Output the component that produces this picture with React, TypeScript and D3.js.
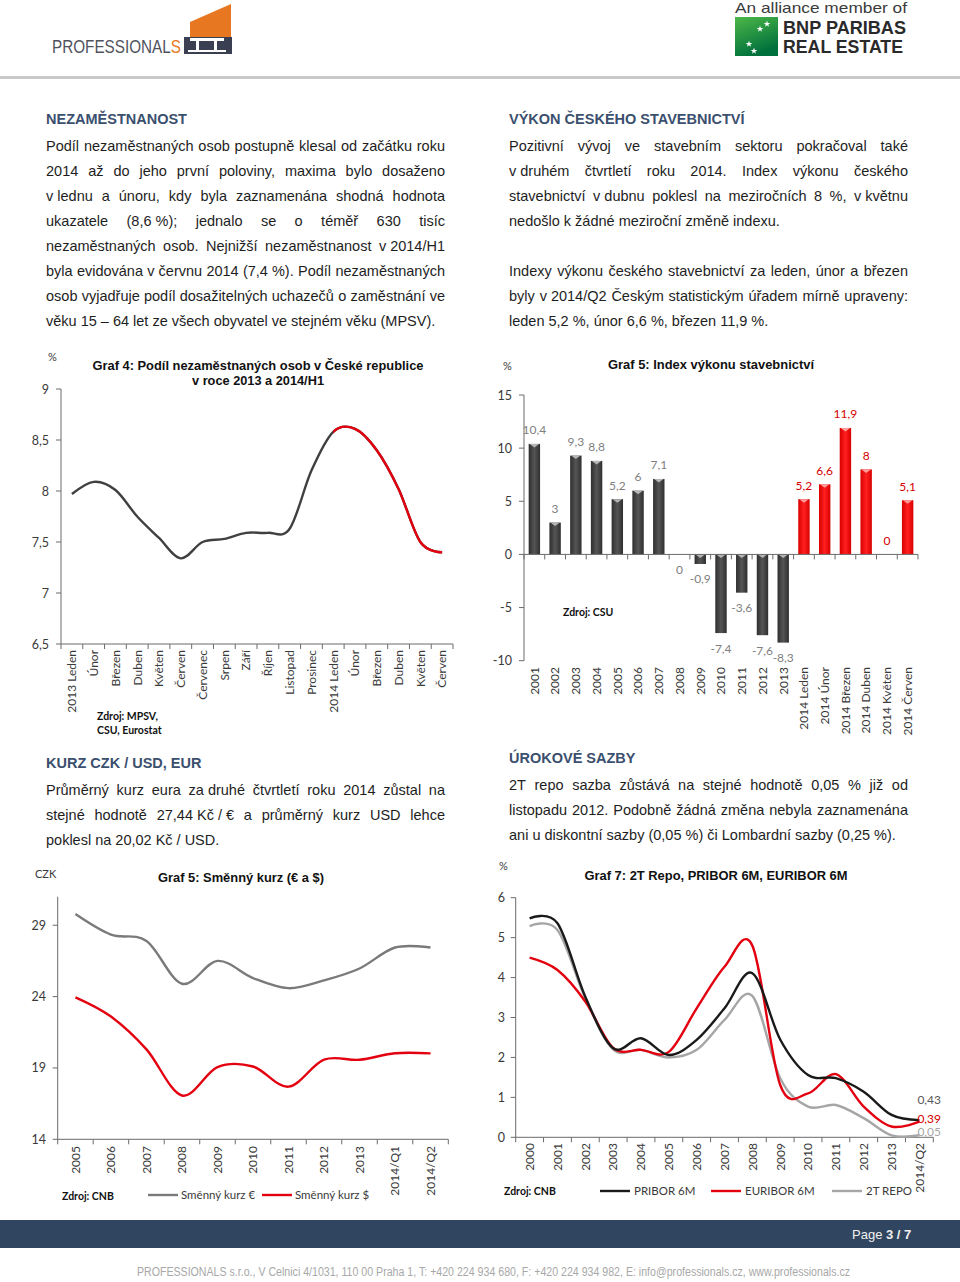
import React from "react";
import * as d3 from "d3";

const SANS = "'Liberation Sans', Arial, Helvetica, sans-serif";
const CAL = "Lato, 'Open Sans', sans-serif";
const NAVY = "#3b4f6e";
const INK = "#1e1e1e";
const AXIS = "#6b6b6b";
const TICK_TXT = "#3a3a3a";
const RED = "#e3000f";

// ---------- Graf 4: nezaměstnanost ----------
const UNEMP_LABELS = ["2013 Leden", "Únor", "Březen", "Duben", "Květen", "Červen", "Červenec", "Srpen", "Září", "Říjen", "Listopad", "Prosinec", "2014 Leden", "Únor", "Březen", "Duben", "Květen", "Červen"];
const UNEMP_VALUES = [7.97, 8.09, 8.01, 7.75, 7.54, 7.34, 7.5, 7.53, 7.59, 7.59, 7.63, 8.2, 8.58, 8.61, 8.4, 8.02, 7.5, 7.4];
const UNEMP_TICKS = [6.5, 7, 7.5, 8, 8.5, 9];
const UNEMP_RED_FROM = UNEMP_LABELS.indexOf("2014 Leden");

// ---------- Graf 5: index výkonu stavebnictví ----------
const BUILD_CATS = ["2001", "2002", "2003", "2004", "2005", "2006", "2007", "2008", "2009", "2010", "2011", "2012", "2013", "2014 Leden", "2014 Únor", "2014 Březen", "2014 Duben", "2014 Květen", "2014 Červen"];
const BUILD_VALUES = [10.4, 3, 9.3, 8.8, 5.2, 6, 7.1, 0, -0.9, -7.4, -3.6, -7.6, -8.3, 5.2, 6.6, 11.9, 8, 0, 5.1];
const BUILD_TICKS = [-10, -5, 0, 5, 10, 15];

// ---------- Graf 5: směnný kurz ----------
const FX_PERIODS = ["2005", "2006", "2007", "2008", "2009", "2010", "2011", "2012", "2013", "2014/Q1", "2014/Q2"];
const FX_EUR = [29.78, 28.34, 27.9, 24.9, 26.5, 25.3, 24.59, 25.14, 25.97, 27.44, 27.44];
const FX_USD = [23.95, 22.6, 20.3, 17.07, 19.06, 19.1, 17.69, 19.58, 19.57, 20.03, 20.02];
const FX_TICKS = [14, 19, 24, 29];

// ---------- Graf 7: sazby ----------
const RATE_PERIODS = ["2000", "2001", "2002", "2003", "2004", "2005", "2006", "2007", "2008", "2009", "2010", "2011", "2012", "2013", "2014/Q2"];
const PRIBOR = [5.48, 5.36, 3.52, 2.23, 2.48, 2.06, 2.44, 3.23, 4.11, 2.45, 1.56, 1.48, 1.14, 0.56, 0.43];
const EURIBOR = [4.5, 4.19, 3.4, 2.24, 2.19, 2.14, 3.23, 4.27, 4.8, 1.31, 1.1, 1.58, 0.77, 0.27, 0.39];
const REPO = [5.29, 5.19, 3.48, 2.2, 2.19, 2.0, 2.19, 2.94, 3.54, 1.48, 0.77, 0.81, 0.48, 0.05, 0.05];
const RATE_TICKS = [0, 1, 2, 3, 4, 5, 6];

// ---------- texts ----------
const UNEMP_TEXT = [[
  "Podíl nezaměstnaných osob postupně klesal od začátku roku",
  "2014 až do jeho první poloviny, maxima bylo dosaženo",
  "v\u00a0lednu a únoru, kdy byla zaznamenána shodná hodnota",
  "ukazatele (8,6\u00a0%); jednalo se o téměř 630 tisíc",
  "nezaměstnaných osob. Nejnižší nezaměstnanost v\u00a02014/H1",
  "byla evidována v\u00a0červnu 2014 (7,4\u00a0%). Podíl nezaměstnaných",
  "osob vyjadřuje podíl dosažitelných uchazečů o zaměstnání ve",
  "věku 15 – 64 let ze všech obyvatel ve stejném věku (MPSV).",
]];
const BUILD_TEXT = [[
  "Pozitivní vývoj ve stavebním sektoru pokračoval také",
  "v\u00a0druhém čtvrtletí roku 2014. Index výkonu českého",
  "stavebnictví v\u00a0dubnu poklesl na meziročních 8 %, v\u00a0květnu",
  "nedošlo k žádné meziroční změně indexu.",
], [
  "Indexy výkonu českého stavebnictví za leden, únor a březen",
  "byly v\u00a02014/Q2 Českým statistickým úřadem mírně upraveny:",
  "leden 5,2 %, únor 6,6 %, březen 11,9 %.",
]];
const FX_TEXT = [[
  "Průměrný kurz eura za\u00a0druhé čtvrtletí roku 2014 zůstal na",
  "stejné hodnotě 27,44\u00a0Kč\u00a0/\u00a0€ a průměrný kurz USD lehce",
  "poklesl na 20,02 Kč / USD.",
]];
const RATE_TEXT = [[
  "2T repo sazba zůstává na stejné hodnotě 0,05 % již od",
  "listopadu 2012. Podobně žádná změna nebyla zaznamenána",
  "ani u diskontní sazby (0,05 %) či Lombardní sazby (0,25 %).",
]];

const fmt = (v: number) => String(v).replace(".", ",");

let measureCtx: CanvasRenderingContext2D | null = null;
function measure(s: string, font: string) {
  if (!measureCtx) measureCtx = document.createElement("canvas").getContext("2d");
  measureCtx!.font = font;
  return measureCtx!.measureText(s).width;
}

function TextBlock({ x, y, width, title, paras }: { x: number; y: number; width: number; title: string; paras: string[][] }) {
  const size = 14.5;
  const font = `${size}px ${SANS}`;
  const out: React.ReactNode[] = [];
  let ly = y + 27;
  paras.forEach((lines, pi) => {
    lines.forEach((line, li) => {
      const last = li === lines.length - 1;
      if (last) {
        out.push(<text key={`${pi}-${li}`} x={x} y={ly}>{line}</text>);
      } else {
        const words = line.split(" ");
        const ws = words.map(w => measure(w, font));
        const gap = (width - d3.sum(ws)) / (words.length - 1);
        let cx = x;
        words.forEach((w, wi) => {
          out.push(<text key={`${pi}-${li}-${wi}`} x={cx} y={ly}>{w}</text>);
          cx += ws[wi] + gap;
        });
      }
      ly += 25;
    });
    ly += 25;
  });
  return (
    <g fontFamily={SANS}>
      <text x={x} y={y} fontSize={14.5} fontWeight="bold" fill={NAVY}>{title}</text>
      <g fontSize={size} fill={INK}>{out}</g>
    </g>
  );
}

function YAxis({ x, y, ticks, labelX }: { x: number; y: d3.ScaleLinear<number, number>; ticks: number[]; labelX: number }) {
  const [r0, r1] = y.range();
  return (
    <g>
      <line x1={x} x2={x} y1={r0} y2={r1} stroke={AXIS} strokeWidth={1} />
      {ticks.map(t => (
        <g key={t}>
          <line x1={x - 5} x2={x} y1={y(t)} y2={y(t)} stroke={AXIS} />
          <text x={labelX} y={y(t)} dy="0.36em" textAnchor="end" fontFamily={CAL} fontSize={12.5} fill={TICK_TXT}>{fmt(t)}</text>
        </g>
      ))}
    </g>
  );
}

function XAxis({ band, y, labels, labelTop }: { band: d3.ScaleBand<number>; y: number; labels: string[]; labelTop: number }) {
  const [a, b] = band.range();
  const bounds = band.domain().map(i => band(i)!).concat([b]);
  return (
    <g>
      <line x1={a} x2={b} y1={y} y2={y} stroke={AXIS} />
      {bounds.map((bx, i) => <line key={i} x1={bx} x2={bx} y1={y} y2={y + 5} stroke={AXIS} />)}
      {labels.map((l, i) => (
        <text key={i} transform={`translate(${band(i)! + band.bandwidth() / 2},${labelTop}) rotate(-90)`} textAnchor="end" dy="0.36em"
          fontFamily={CAL} fontSize={12} fill={TICK_TXT}>{l}</text>
      ))}
    </g>
  );
}

function ChartTitle({ x, y, lines, widths }: { x: number; y: number; lines: string[]; widths: number[] }) {
  return (
    <g fontFamily={SANS} fontWeight="bold" fontSize={12.5} fill="#111" textAnchor="middle">
      {lines.map((l, i) => <text key={i} x={x} y={y + i * 15} textLength={widths[i]} lengthAdjust="spacingAndGlyphs">{l}</text>)}
    </g>
  );
}

function smooth(values: number[], x: (i: number) => number, y: d3.ScaleLinear<number, number>) {
  return d3.line<number>().x((_, i) => x(i)).y(d => y(d)).curve(d3.curveCardinal.tension(0))(values)!;
}

function UnemploymentChart() {
  const x = d3.scaleBand<number>().domain(d3.range(UNEMP_LABELS.length)).range([61, 453]);
  const y = d3.scaleLinear().domain([6.5, 9]).range([644, 389]);
  const cx = (i: number) => x(i)! + x.bandwidth() / 2;
  const path = smooth(UNEMP_VALUES, cx, y);
  return (
    <g>
      <defs>
        <clipPath id="unempRed"><rect x={cx(UNEMP_RED_FROM)} y={380} width={400} height={280} /></clipPath>
      </defs>
      <text x={48} y={361} fontFamily={CAL} fontSize={11} fill={TICK_TXT}>%</text>
      <ChartTitle x={258} y={369.5} lines={["Graf 4: Podíl nezaměstnaných osob v České republice", "v roce 2013 a 2014/H1"]} widths={[331, 132]} />
      <YAxis x={61} y={y} ticks={UNEMP_TICKS} labelX={49} />
      <XAxis band={x} y={644} labels={UNEMP_LABELS} labelTop={650} />
      <path d={path} fill="none" stroke="#404040" strokeWidth={2.4} />
      <path d={path} fill="none" stroke={RED} strokeWidth={2.4} clipPath="url(#unempRed)" />
      <g fontFamily={CAL} fontWeight="bold" fontSize={10.5} fill="#111">
        <text x={97} y={720}>Zdroj: MPSV,</text>
        <text x={97} y={734}>CSU, Eurostat</text>
      </g>
    </g>
  );
}

function BuildingChart() {
  const x = d3.scaleBand<number>().domain(d3.range(BUILD_CATS.length)).range([524, 918]);
  const y = d3.scaleLinear().domain([-10, 15]).range([660.7, 395]);
  const bw = x.bandwidth() * 0.55;
  return (
    <g>
      <defs>
        <linearGradient id="barGray" x1="0" x2="1" y1="0" y2="0">
          <stop offset="0" stopColor="#2f2f2f" /><stop offset="0.5" stopColor="#555" /><stop offset="1" stopColor="#2f2f2f" />
        </linearGradient>
        <linearGradient id="barRed" x1="0" x2="1" y1="0" y2="0">
          <stop offset="0" stopColor="#d80000" /><stop offset="0.5" stopColor="#ff2020" /><stop offset="1" stopColor="#d80000" />
        </linearGradient>
      </defs>
      <text x={503} y={370} fontFamily={CAL} fontSize={11} fill={TICK_TXT}>%</text>
      <ChartTitle x={711} y={368.5} lines={["Graf 5: Index výkonu stavebnictví"]} widths={[206]} />
      <YAxis x={524} y={y} ticks={BUILD_TICKS} labelX={512} />
      {BUILD_VALUES.map((v, i) => {
        const red = BUILD_CATS[i].startsWith("2014");
        const bx = x(i)! + (x.bandwidth() - bw) / 2;
        const top = Math.min(y(v), y(0));
        const h = Math.abs(y(v) - y(0));
        const below = v < 0 || (v === 0 && !red);
        const ly = below ? y(v) + 19.5 : y(v) - 9.5;
        return (
          <g key={i}>
            {h > 0 && <rect x={bx} y={top} width={bw} height={h} fill={red ? "url(#barRed)" : "url(#barGray)"} />}
            {h > 0 && <path d={`M${bx + 1},${top}L${bx + bw - 1},${top}L${bx + bw / 2},${top + 3.5}Z`} fill={red ? "#ff9d9d" : "#b5b5b5"} />}
            <text x={x(i)! + x.bandwidth() / 2} y={ly} textAnchor="middle" fontFamily={CAL} fontSize={12}
              fill={red ? "#d40000" : "#7f7f7f"}>{fmt(v)}</text>
          </g>
        );
      })}
      <XAxis band={x} y={y(0)} labels={[]} labelTop={667} />
      {BUILD_CATS.map((l, i) => (
        <text key={i} transform={`translate(${x(i)! + x.bandwidth() / 2},${667}) rotate(-90)`} textAnchor="end" dy="0.36em"
          fontFamily={CAL} fontSize={12} fill={TICK_TXT}>{l}</text>
      ))}
      <text x={563} y={616} fontFamily={CAL} fontWeight="bold" fontSize={10.5} fill="#111">Zdroj: CSU</text>
    </g>
  );
}

function ExchangeChart() {
  const x = d3.scaleBand<number>().domain(d3.range(FX_PERIODS.length)).range([57.7, 448.3]);
  const y = d3.scaleLinear().domain([14, 31]).range([1139.3, 896.7]);
  const cx = (i: number) => x(i)! + x.bandwidth() / 2;
  const series = [
    { name: "Směnný kurz €", values: FX_EUR, color: "#7a7a7a", lx: 148 },
    { name: "Směnný kurz $", values: FX_USD, color: RED, lx: 262 },
  ];
  return (
    <g>
      <text x={35} y={878} fontFamily={CAL} fontSize={11} fill={TICK_TXT}>CZK</text>
      <ChartTitle x={241} y={881.5} lines={["Graf 5: Směnný kurz (€ a $)"]} widths={[166]} />
      <YAxis x={57.7} y={y} ticks={FX_TICKS} labelX={46} />
      <XAxis band={x} y={1139.3} labels={FX_PERIODS} labelTop={1146} />
      {series.map(s => <path key={s.name} d={smooth(s.values, cx, y)} fill="none" stroke={s.color} strokeWidth={2.4} />)}
      <text x={62} y={1200} fontFamily={CAL} fontWeight="bold" fontSize={10.5} fill="#111">Zdroj: CNB</text>
      {series.map(s => (
        <g key={s.name}>
          <line x1={s.lx} x2={s.lx + 30} y1={1195} y2={1195} stroke={s.color} strokeWidth={2.4} />
          <text x={s.lx + 33} y={1199} fontFamily={CAL} fontSize={11.5} fill={TICK_TXT}>{s.name}</text>
        </g>
      ))}
    </g>
  );
}

function RatesChart() {
  const x = d3.scaleBand<number>().domain(d3.range(RATE_PERIODS.length)).range([515.7, 933.3]);
  const y = d3.scaleLinear().domain([0, 6]).range([1137.3, 897.7]);
  const cx = (i: number) => x(i)! + x.bandwidth() / 2;
  const series = [
    { name: "PRIBOR 6M", values: PRIBOR, color: "#1a1a1a", label: "#595959", labelDy: -16, lx: 600 },
    { name: "EURIBOR 6M", values: EURIBOR, color: RED, label: "#d40000", labelDy: 1.5, lx: 711 },
    { name: "2T REPO", values: REPO, color: "#a6a6a6", label: "#a6a6a6", labelDy: 1, lx: 832 },
  ];
  const last = RATE_PERIODS.length - 1;
  return (
    <g>
      <text x={499} y={870} fontFamily={CAL} fontSize={11} fill={TICK_TXT}>%</text>
      <ChartTitle x={716} y={879.5} lines={["Graf 7: 2T Repo, PRIBOR 6M, EURIBOR 6M"]} widths={[263]} />
      <YAxis x={515.7} y={y} ticks={RATE_TICKS} labelX={505} />
      <XAxis band={x} y={1137.3} labels={RATE_PERIODS} labelTop={1143} />
      {series.slice().reverse().map(s => <path key={s.name} d={smooth(s.values, cx, y)} fill="none" stroke={s.color} strokeWidth={2.4} />)}
      {series.map(s => (
        <text key={s.name} x={cx(last) - 2} y={y(s.values[last]) + s.labelDy} fontFamily={CAL} fontSize={12} fill={s.label}>
          {fmt(s.values[last])}
        </text>
      ))}
      <text x={504} y={1195} fontFamily={CAL} fontWeight="bold" fontSize={10.5} fill="#111">Zdroj: CNB</text>
      {series.map(s => (
        <g key={s.name}>
          <line x1={s.lx} x2={s.lx + 30} y1={1191} y2={1191} stroke={s.color} strokeWidth={2.4} />
          <text x={s.lx + 34} y={1195} fontFamily={CAL} fontSize={11.5} fill={TICK_TXT}>{s.name}</text>
        </g>
      ))}
    </g>
  );
}

function Header() {
  const star = d3.symbol(d3.symbolStar, 14)()!;
  return (
    <g>
      {/* PROFESSIONALS logo */}
      <text x={52} y={53} fontFamily={SANS} fontSize={19} fill="#50535e" textLength={129} lengthAdjust="spacingAndGlyphs">
        PROFESSIONAL<tspan fill="#e87722">S</tspan>
      </text>
      <path d="M190,22 L231,4 L231,37 L190,37 Z" fill="#e87722" />
      <rect x={184} y={37} width={48} height={17} fill="#3a3f52" />
      <rect x={190} y={38} width={34} height={3} fill="#fff" />
      <rect x={196} y={41} width={3} height={10} fill="#fff" />
      <rect x={214} y={41} width={3} height={10} fill="#fff" />
      <rect x={188} y={50} width={38} height={2} fill="#fff" />
      {/* BNP logo */}
      <text x={735} y={13} fontFamily={SANS} fontSize={15} fill="#3a3a3a" textLength={172} lengthAdjust="spacingAndGlyphs">An alliance member of</text>
      <defs>
        <linearGradient id="bnpGreen" x1="0" x2="0.4" y1="0" y2="1">
          <stop offset="0" stopColor="#4db848" /><stop offset="1" stopColor="#00703c" />
        </linearGradient>
      </defs>
      <rect x={735} y={17} width={43} height={39} fill="url(#bnpGreen)" />
      {[[760, 29], [767, 24], [749, 44], [754, 51]].map(([sx, sy], i) => (
        <path key={i} d={star} transform={`translate(${sx},${sy})`} fill="#fff" />
      ))}
      <text x={783} y={34} fontFamily={SANS} fontWeight="bold" fontSize={18} fill="#2a2a2a" textLength={123} lengthAdjust="spacingAndGlyphs">BNP PARIBAS</text>
      <text x={783} y={53} fontFamily={SANS} fontWeight="bold" fontSize={18} fill="#2a2a2a" textLength={120} lengthAdjust="spacingAndGlyphs">REAL ESTATE</text>
      <rect x={0} y={76} width={960} height={3} fill="#c9c9c9" />
    </g>
  );
}

function Footer() {
  return (
    <g fontFamily={SANS}>
      <rect x={0} y={1220} width={960} height={28} fill="#30455f" />
      <text x={852} y={1239} fontSize={13} fill="#f0f0f0">Page <tspan fontWeight="bold">3 / 7</tspan></text>
      <text x={137} y={1276} fontSize={12} fill="#a8a8a8" textLength={713} lengthAdjust="spacingAndGlyphs">
        PROFESSIONALS s.r.o., V Celnici 4/1031, 110 00 Praha 1, T: +420 224 934 680, F: +420 224 934 982, E: info@professionals.cz, www.professionals.cz
      </text>
    </g>
  );
}

export default function App() {
  return (
    <svg width={960} height={1282} style={{ position: "absolute", left: 0, top: 0, display: "block", background: "#fff" }}>
      <rect width={960} height={1282} fill="#fff" />
      <Header />
      <TextBlock x={46} y={124} width={399} title="NEZAMĚSTNANOST" paras={UNEMP_TEXT} />
      <TextBlock x={509} y={124} width={399} title="VÝKON ČESKÉHO STAVEBNICTVÍ" paras={BUILD_TEXT} />
      <UnemploymentChart />
      <BuildingChart />
      <TextBlock x={46} y={768} width={399} title="KURZ CZK / USD, EUR" paras={FX_TEXT} />
      <TextBlock x={509} y={763} width={399} title="ÚROKOVÉ SAZBY" paras={RATE_TEXT} />
      <ExchangeChart />
      <RatesChart />
      <Footer />
    </svg>
  );
}
